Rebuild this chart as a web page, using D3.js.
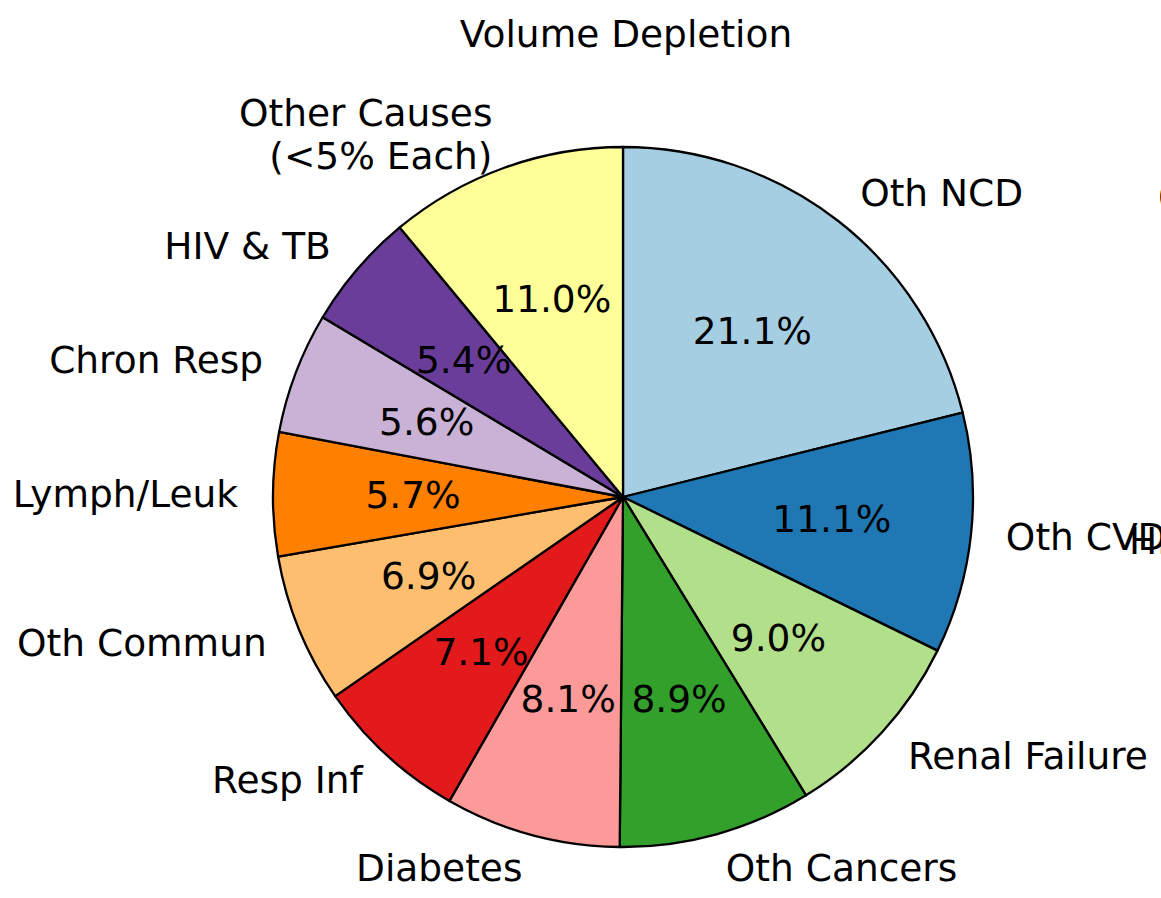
<!DOCTYPE html>
<html>
<head>
<meta charset="utf-8">
<script src="https://cdn.jsdelivr.net/npm/d3@7/dist/d3.min.js"></script>
<style>
  body { margin: 0; background: #fff; }
  svg { display: block; }
  text { font-family: "DejaVu Sans", sans-serif; fill: #000; }
</style>
</head>
<body>
<svg id="chart" width="1161" height="898"></svg>
<script>
const title = "Volume Depletion";
const categories = ["Oth NCD", "Oth CVD", "Renal Failure", "Oth Cancers", "Diabetes", "Resp Inf",
  "Oth Commun", "Lymph/Leuk", "Chron Resp", "HIV & TB", "Other Causes\n(<5% Each)"];
const values = [21.1, 11.1, 9.0, 8.9, 8.1, 7.1, 6.9, 5.7, 5.6, 5.4, 11.0];
const colors = ["#a6cee3", "#1f78b4", "#b2df8a", "#33a02c", "#fb9a99", "#e31a1c",
  "#fdbf6f", "#ff7f00", "#cab2d6", "#6a3d9a", "#ffff99"];
// fragments of a neighbouring chart's labels, clipped at the right edge
const clippedLabels = ["(<5% Each)", "HIV & TB"];

const svg = d3.select("#chart");
const cx = 623, cy = 497, R = 350;
const fs = 37.5;

const g = svg.append("g").attr("transform", `translate(${cx},${cy})`);
const pie = d3.pie().sort(null).value(d => d).startAngle(0).endAngle(2 * Math.PI);
const arcs = pie(values);
const arc = d3.arc().innerRadius(0).outerRadius(R);

g.selectAll("path").data(arcs).join("path")
  .attr("d", arc)
  .attr("fill", (d, i) => colors[i])
  .attr("stroke", "#000")
  .attr("stroke-width", 2.3)
  .attr("stroke-linejoin", "round");

function pos(d, r) {
  const a = (d.startAngle + d.endAngle) / 2;
  return [r * Math.sin(a), -r * Math.cos(a)];
}

// percentages
g.selectAll("text.pct").data(arcs).join("text")
  .attr("class", "pct")
  .attr("x", d => pos(d, 0.6 * R)[0])
  .attr("y", d => pos(d, 0.6 * R)[1])
  .attr("dy", "0.34em")
  .attr("text-anchor", "middle")
  .style("font-size", fs + "px")
  .text(d => d.value.toFixed(1) + "%");

// labels
arcs.forEach((d, i) => {
  const [x, y] = pos(d, 1.1 * R);
  const lines = categories[i].split("\n");
  const lh = fs * 1.16;
  const t = g.append("text")
    .attr("text-anchor", x > 0 ? "start" : "end")
    .style("font-size", fs + "px");
  lines.forEach((ln, k) => {
    t.append("tspan")
      .attr("x", x)
      .attr("y", y + (k - (lines.length - 1) / 2) * lh)
      .attr("dy", "0.34em")
      .text(ln);
  });
});

// title
svg.append("text")
  .attr("x", cx + 3)
  .attr("y", 34)
  .attr("dy", "0.34em")
  .attr("text-anchor", "middle")
  .style("font-size", fs + "px")
  .text(title);

// clipped neighbour labels
svg.append("text").attr("x", 1157).attr("y", 195).attr("dy", "0.34em")
  .style("font-size", fs + "px").text(clippedLabels[0]);
svg.append("text").attr("x", 1129).attr("y", 541).attr("dy", "0.34em")
  .style("font-size", fs + "px").text(clippedLabels[1]);
</script>
</body>
</html>
